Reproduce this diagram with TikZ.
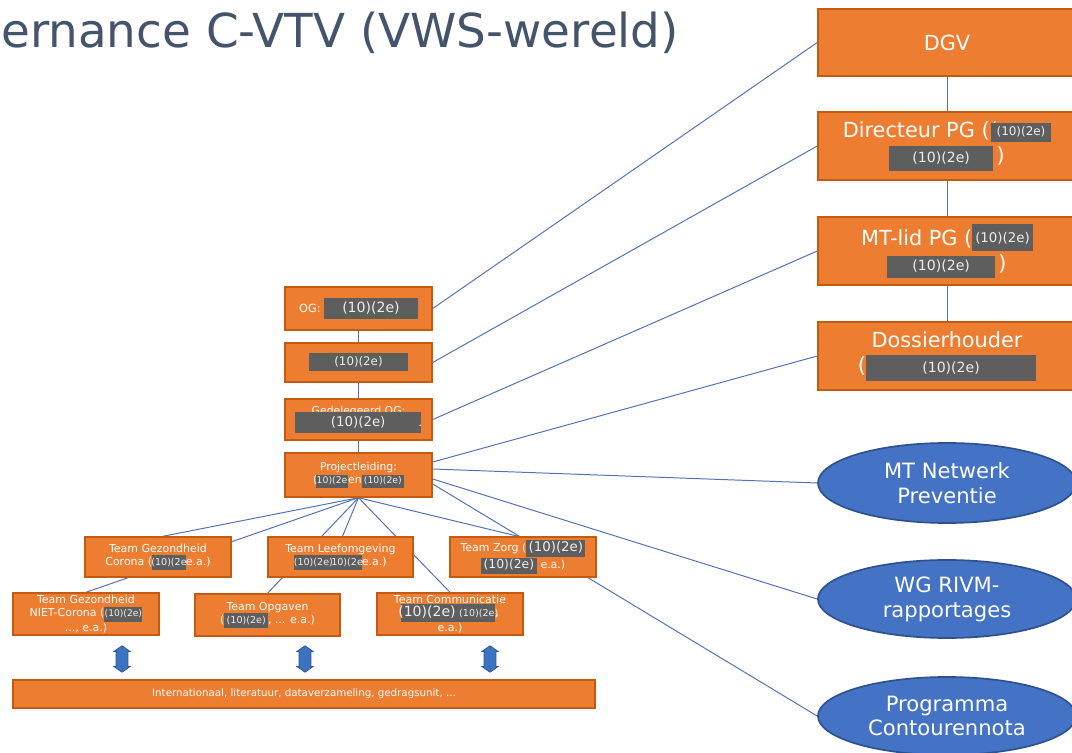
\documentclass[tikz,border=0pt]{standalone}
\usepackage{fontspec}
\setmainfont{DejaVu Sans}
\usetikzlibrary{calc,shapes.geometric,shapes.arrows,backgrounds}
\definecolor{org}{HTML}{ED7D31}
\definecolor{orgd}{HTML}{C55A11}
\definecolor{blu}{HTML}{4472C4}
\definecolor{blud}{HTML}{2F528F}
\definecolor{lnc}{HTML}{5272B4}
\definecolor{redg}{HTML}{5E5E5E}
\definecolor{redt}{HTML}{EEEEEE}
\definecolor{ttl}{HTML}{44546A}
\definecolor{arrc}{HTML}{3B73C2}
\newcommand\fz[2]{\fontsize{#1}{#2}\selectfont}
\newcommand\rdx[3]{{#1\setlength{\fboxsep}{1pt}\colorbox{redg}{\makebox[#2]{\color{redt}\strut #3}}}}
\pgfdeclarelayer{bgzero}
\pgfsetlayers{bgzero,background,main}
\tikzset{
  obox/.style={rectangle, fill=org, draw=orgd, line width=1pt, text=white, align=center, inner sep=1pt},
  lbox/.style={obox, minimum width=3.675cm, font=\fz{7.7}{9.3}},
  tbox/.style={obox, font=\fz{7.8}{9.3}},
  rbox/.style={obox, minimum width=6.45cm, minimum height=1.7cm, font=\fz{14.8}{18}},
  ell/.style={ellipse, fill=blu, draw=blud, line width=1.2pt, text=white, align=center, inner sep=0pt, minimum width=6.45cm, font=\fz{15}{17.7}},
  conn/.style={draw=lnc, line width=0.7pt},
  dbl/.style={double arrow, fill=arrc, draw=blud, line width=0.5pt, rotate=90, inner xsep=2pt, inner ysep=4pt, minimum height=0.66cm, double arrow head extend=1.5pt, double arrow head indent=0pt, double arrow tip angle=110}
}
\begin{document}
\begin{tikzpicture}[x=0.025cm,y=-0.025cm]
\begin{pgfonlayer}{bgzero}
\fill[white] (0,0) rectangle (1072,753);
\end{pgfonlayer}
\useasboundingbox (0,0) rectangle (1072,753);
\clip (0,0) rectangle (1072,753);

% title
\node[anchor=base west, inner sep=0pt, text=ttl, font=\fz{33.3}{40}] (title) at (1,48) {ernance C-VTV (VWS-wereld)};

% left column
\node[lbox, minimum height=1.075cm] (og) at (358.5,308.5) {{\fz{8}{10}OG: }\rdx{\fz{10}{13.6}}{64.6pt}{(10)(2e)}};
\node[lbox, minimum height=0.975cm] (b2) at (358.5,362.5) {\rdx{\fz{8.4}{10.8}}{68pt}{(10)(2e)}};
\node[lbox, minimum height=1.025cm] (gog) at (358.5,419.5) {Gedelegeerd OG:\\[-4pt]\rdx{\fz{9.5}{12.9}}{88pt}{(10)(2e)}\hspace{-2pt}.};
\node[lbox, minimum height=1.1cm] (pl) at (358.5,475) {Projectleiding:\\(\hspace{-1pt}\rdx{\fz{6.6}{7.5}}{21pt}{10)(2e}en\rdx{\fz{6.6}{7.5}}{28pt}{(10)(2e)}};

% teams
\node[tbox, minimum width=3.65cm, minimum height=1cm] (gc) at (158,557) {Team Gezondheid\\Corona (\rdx{\fz{6.8}{8.6}}{22pt}{(10)(2e}e.a.)};
\node[tbox, minimum width=3.625cm, minimum height=1cm] (lf) at (340.5,557) {Team Leefomgeving\\\rdx{\fz{6.8}{8.6}}{25pt}{(10)(2e)}\rdx{\fz{6.8}{8.6}}{19pt}{10)(2e}e.a.)};
\node[tbox, minimum width=3.65cm, minimum height=1cm] (tz) at (523,557) {Team Zorg (\rdx{\fz{9.5}{8.8}}{40pt}{(10)(2e)}\\\rdx{\fz{8.8}{8.8}}{38pt}{(10)(2e)} e.a.)};
\node[tbox, minimum width=3.65cm, minimum height=1.05cm] (nc) at (86,614) {Team Gezondheid\\NIET-Corona (\rdx{\fz{6.5}{8}}{25pt}{(10)(2e)}\\..., e.a.)};
\node[tbox, minimum width=3.625cm, minimum height=1.05cm] (op) at (267.5,615) {Team Opgaven\\(\rdx{\fz{6.8}{8.6}}{29pt}{(10)(2e)}, ... e.a.)};
\node[tbox, minimum width=3.65cm, minimum height=1.05cm] (cm) at (450,614) {Team Communicatie\\\rdx{\fz{7.8}{11}}{65pt}{{\fz{10}{11}(10)(2e)} {\fz{6.8}{8}(10)(2e)}},\\e.a.)};

% double arrows
\node[dbl] (a1) at (122,659) {};
\node[dbl] (a2) at (305,659) {};
\node[dbl] (a3) at (490,659) {};

% bottom bar
\node[obox, minimum width=14.55cm, minimum height=0.7cm, font=\fz{7.3}{9}] (bar) at (304,694) {Internationaal, literatuur, dataverzameling, gedragsunit, ...};

% right column
\node[rbox, minimum height=1.675cm] (dgv) at (947,42.5) {DGV};
\node[rbox] (dir) at (947,146) {Directeur PG ((\hspace{-5pt}\raisebox{1pt}{\rdx{\fz{8.5}{12}}{41pt}{(10)(2e)}}\\\rdx{\fz{10}{15.5}}{71.7pt}{(10)(2e)}\,)};
\node[rbox] (mtl) at (947,251) {MT-lid PG (\raisebox{2pt}{\rdx{\fz{9.5}{17}}{41pt}{(10)(2e)}}\\\rdx{\fz{10}{13.5}}{74.5pt}{(10)(2e)}\,)};
\node[rbox] (dos) at (947,356) {Dossierhouder\\(\rdx{\fz{10}{16.4}}{119pt}{(10)(2e)}};

% ellipses
\node[ell, minimum height=2cm] (mtn) at (947,483) {MT Netwerk\\Preventie};
\node[ell, minimum height=1.95cm] (wg) at (947,599) {WG RIVM-\\rapportages};
\node[ell, minimum height=1.95cm] (pc) at (947,716) {Programma\\Contourennota};

% connectors
\begin{pgfonlayer}{background}
\draw[conn] (og.south) -- (b2.north);
\draw[conn] (b2.south) -- (gog.north);
\draw[conn] (gog.south) -- (pl.north);
\draw[conn] (dgv.south) -- (dir.north);
\draw[conn] (dir.south) -- (mtl.north);
\draw[conn] (mtl.south) -- (dos.north);
\draw[conn] (og.east) -- (dgv.west);
\draw[conn] (b2.east) -- (dir.west);
\draw[conn] (gog.east) -- (mtl.west);
\draw[conn] ($(pl.east)+(0,-13)$) -- (dos.west);
\draw[conn] ($(pl.east)+(0,-6)$) -- (mtn.west);
\draw[conn] ($(pl.east)+(0,4)$) -- (wg.west);
\draw[conn] ($(pl.east)+(0,9)$) -- (pc.west);
\draw[conn] (pl.south) -- ($(gc.north)+(5,0)$);
\draw[conn] (pl.south) -- (nc.north);
\draw[conn] (pl.south) -- ($(lf.north)+(2,0)$);
\draw[conn] (pl.south) -- (op.north);
\draw[conn] (pl.south) -- (cm.north);
\draw[conn] (pl.south) -- ($(tz.north)+(-5,0)$);
\end{pgfonlayer}
\end{tikzpicture}
\end{document}
